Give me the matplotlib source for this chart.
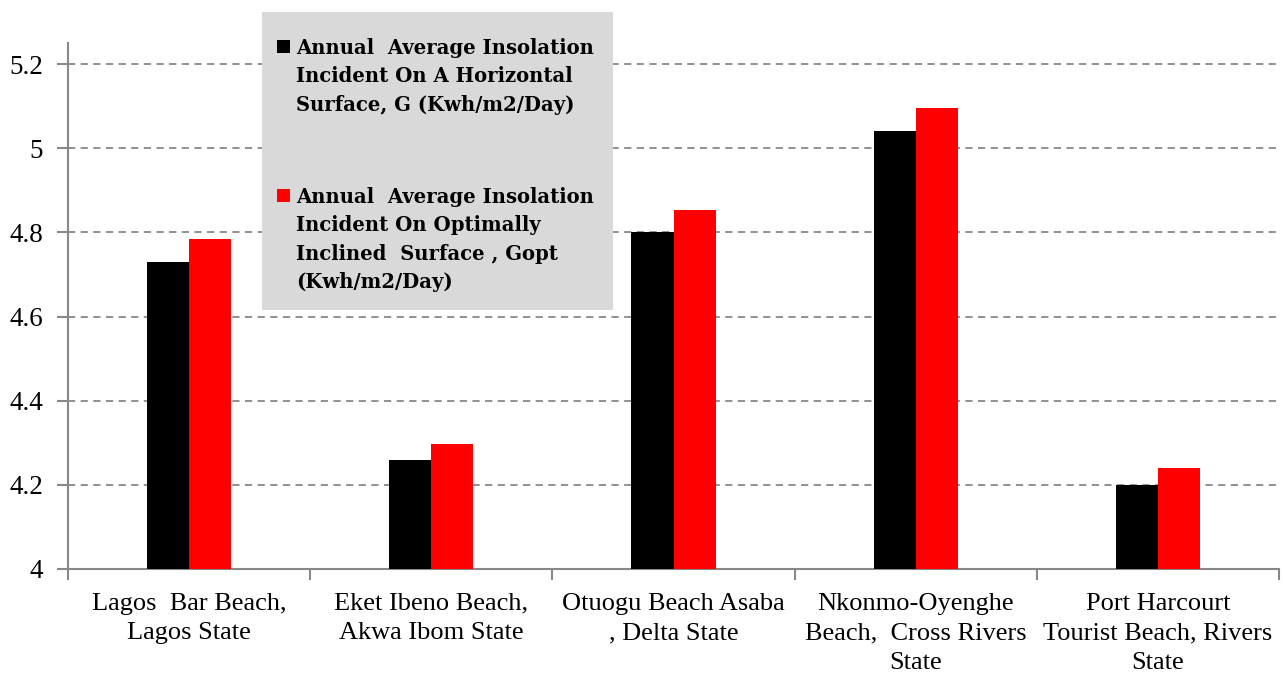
import numpy as np
import matplotlib.pyplot as plt
from matplotlib.patches import Rectangle

## Data

beaches = ["Lagos  Bar Beach,\nLagos State",
           "Eket Ibeno Beach,\nAkwa Ibom State",
           "Otuogu Beach Asaba\n, Delta State",
           "Nkonmo-Oyenghe\nBeach,  Cross Rivers\nState",
           "Port Harcourt\nTourist Beach, Rivers\nState"]
g_horizontal = [4.73, 4.26, 4.80, 5.04, 4.20]
g_optimal = [4.785, 4.298, 4.853, 5.095, 4.24]
labels = ["Annual  Average Insolation\nIncident On A Horizontal\nSurface, G (Kwh/m2/Day)",
          "Annual  Average Insolation\nIncident On Optimally\nInclined  Surface , Gopt\n(Kwh/m2/Day)"]
colors = ['black', '#ff0000']
y_ticks = [4, 4.2, 4.4, 4.6, 4.8, 5, 5.2]
y_tick_labels = ["4", "4.2", "4.4", "4.6", "4.8", "5", "5.2"]

plt.rcParams['font.family'] = ['Liberation Serif', 'DejaVu Serif']

W, H = 1283, 673
fig = plt.figure(figsize=(W / 100, H / 100), dpi=100)
ax = fig.add_axes([68 / W, 1 - 569 / H, (1279 - 68) / W, (569 - 43) / H])

x = np.arange(len(beaches)) + 0.5
bw = 0.174
ax.bar(x - bw, g_horizontal, width=bw, align='edge', color=colors[0], zorder=3)
ax.bar(x, g_optimal, width=bw, align='edge', color=colors[1], zorder=3)

ax.set_xlim(0, 5)
ax.set_ylim(4, 5.25)

ax.set_yticks(y_ticks)
ax.set_yticklabels(y_tick_labels, fontsize=19.5)
ax.set_xticks(x)
ax.set_xticklabels(beaches, fontsize=19, linespacing=1.44)
ax.set_xticks(np.arange(0, 6), minor=True)
ax.tick_params(axis='x', which='major', length=0, pad=17)
ax.tick_params(axis='x', which='minor', length=8, color='#888888', width=1.5)
ax.tick_params(axis='y', length=8, color='#888888', width=1.5, pad=10)

for s in ['top', 'right']:
    ax.spines[s].set_visible(False)
for s in ['left', 'bottom']:
    ax.spines[s].set_color('#888888')
    ax.spines[s].set_linewidth(1.5)

ax.yaxis.grid(True, linestyle=(0, (4, 3)), color='#888888', linewidth=1.3, zorder=0)
ax.set_axisbelow(True)

# legend box, drawn by hand so the markers sit on the first line
fig.patches.append(Rectangle((262 / W, 1 - 310 / H), 351 / W, 298 / H,
                             transform=fig.transFigure, facecolor='#d9d9d9',
                             edgecolor='none', zorder=5))
entry_top = [38, 187]
for i in range(len(labels)):
    fig.patches.append(Rectangle((277 / W, 1 - (entry_top[i] + 15) / H), 13 / W, 13 / H,
                                 transform=fig.transFigure, facecolor=colors[i],
                                 edgecolor='none', zorder=6))
    fig.text(296 / W, 1 - entry_top[i] / H, labels[i], ha='left', va='top',
             fontsize=14.1, fontweight='bold', family='DejaVu Serif',
             linespacing=1.53, zorder=7)

fig.savefig("out.png", dpi=100)
